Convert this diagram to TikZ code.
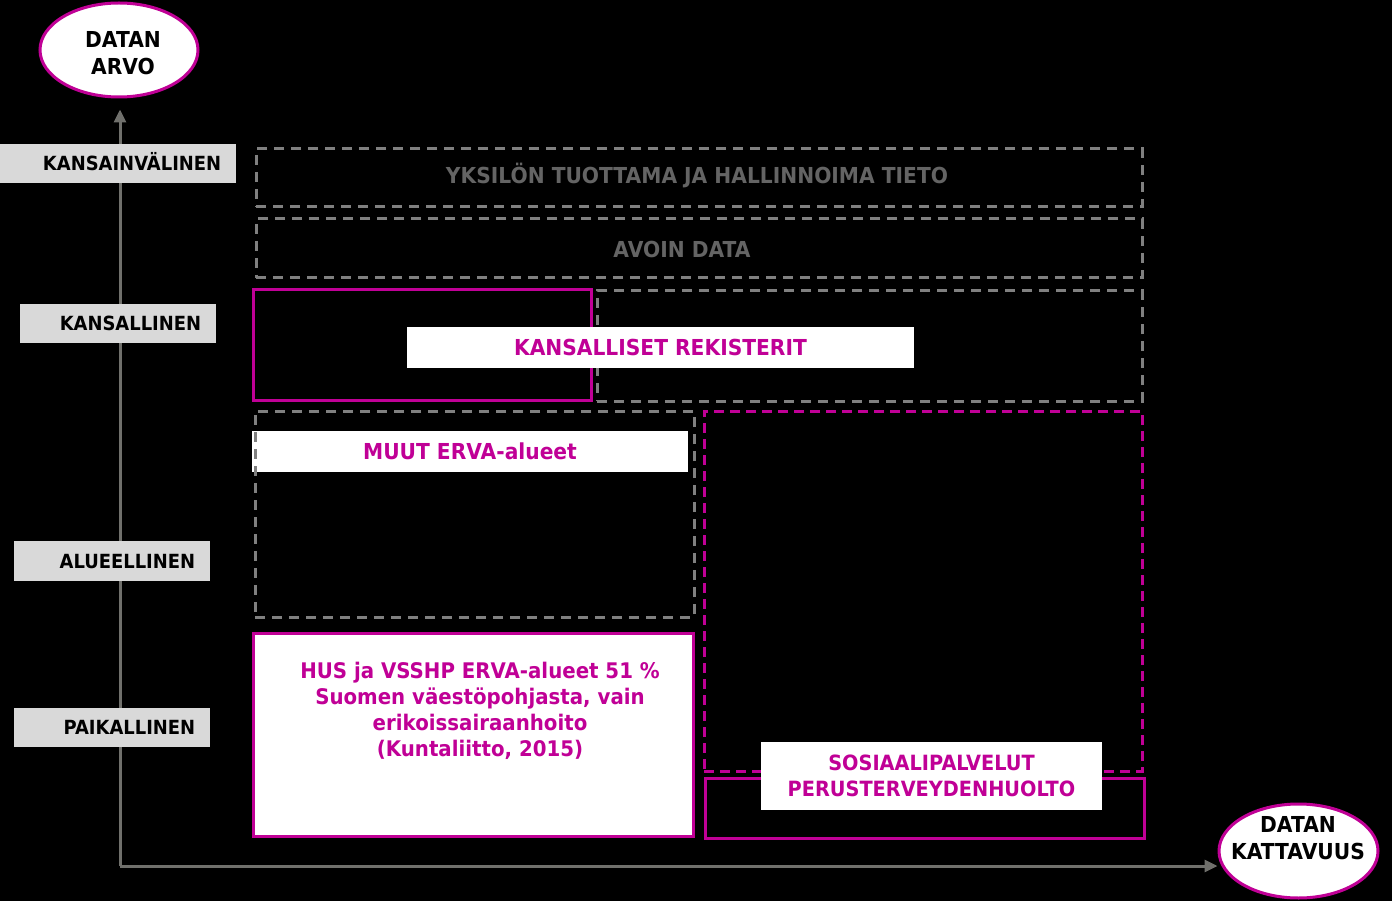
\documentclass[tikz,border=0pt]{standalone}
\usepackage{fontspec}
\setmainfont{DejaVu Sans}[FakeStretch=0.92]
\usetikzlibrary{shapes.geometric,arrows.meta}
\definecolor{mag}{RGB}{192,0,150}
\definecolor{dgray}{RGB}{128,128,128}
\definecolor{tgray}{RGB}{100,100,100}
\definecolor{lgray}{RGB}{217,217,217}
\definecolor{axgray}{RGB}{112,112,108}
\tikzset{
  dbox/.style={draw=dgray, dash pattern=on 10pt off 7pt, line width=3pt, inner sep=0pt},
  mdbox/.style={draw=mag, dash pattern=on 10pt off 6pt, line width=3pt, inner sep=0pt},
  msbox/.style={draw=mag, line width=3pt, inner sep=0pt},
  wbox/.style={fill=white, inner sep=0pt},
  bigtxt/.style={font=\bfseries\fontsize{22}{27}\selectfont},
  magtxt/.style={bigtxt, text=mag},
  graytxt/.style={bigtxt, text=tgray},
  lab/.style={fill=lgray, anchor=north west, align=right, inner xsep=15pt, inner ysep=0pt,
    font=\bfseries\fontsize{19.5}{24}\selectfont, text height=14.2pt, text depth=0pt},
  oval/.style={ellipse, draw=mag, line width=3pt, fill=white, inner sep=0pt,
    minimum width=158pt, minimum height=94pt},
  axisline/.style={draw=axgray, line width=3pt, -{Triangle[length=13pt,width=12pt]}}
}
\begin{document}
\begin{tikzpicture}[x=1pt,y=-1pt]
\fill[black] (0,0) rectangle (1392,901);
\useasboundingbox (0,0) rectangle (1392,901);

% ovals
\node[oval] (arvo) at (119,50) {};
\node[bigtxt, align=center] (arvotxt) at (123,53) {DATAN\\ARVO};
\node[oval, minimum width=159pt] (kat) at (1298.5,851) {};
\node[bigtxt, align=center] (kattxt) at (1298,838) {DATAN\\KATTAVUUS};

% axes
\coordinate (o) at (120,866);
\draw[axisline, shorten >=11pt] (o) -- (o |- arvo.south);
\draw[axisline] (o) -- (o -| kat.west);

% level labels
\node[lab, minimum width=236pt, minimum height=39pt, text width=206pt] (intl) at (0,144) {KANSAINVÄLINEN};
\node[lab, minimum width=196pt, minimum height=39pt, text width=166pt] (nat) at (20,304) {KANSALLINEN};
\node[lab, minimum width=196pt, minimum height=40pt, text width=166pt] (reg) at (14,541) {ALUEELLINEN};
\node[lab, minimum width=196pt, minimum height=39pt, text width=166pt] (loc) at (14,708) {PAIKALLINEN};

% dashed gray boxes
\node[dbox, minimum width=886pt, minimum height=58pt] (yks) at (699,178) {};
\node[graytxt] (ykstxt) at (697,176) {YKSILÖN TUOTTAMA JA HALLINNOIMA TIETO};
\node[dbox, minimum width=886pt, minimum height=59pt] (avoin) at (699,248.5) {};
\node[graytxt] (avointxt) at (682,249.5) {AVOIN DATA};

% national registers
\node[msbox, minimum width=338pt, minimum height=110pt] (natm) at (422,345) {};
\node[dbox, minimum width=545pt, minimum height=110pt] (natd) at (869.5,346) {};
\node[wbox, magtxt, minimum width=507pt, minimum height=41pt] (kansreg) at (660.5,347.5) {KANSALLISET REKISTERIT};

% other ERVA areas
\node[wbox, magtxt, minimum width=436pt, minimum height=41pt] (muut) at (470,451.5) {MUUT ERVA-alueet};
\node[dbox, minimum width=439pt, minimum height=206pt] (muutd) at (474.5,514) {};

% HUS box
\node[msbox, fill=white, minimum width=440pt, minimum height=203pt] (hus) at (473,734.5) {};
\node[magtxt, align=center, font=\bfseries\fontsize{21.5}{26}\selectfont] (hustxt) at (480,711)
  {HUS ja VSSHP ERVA-alueet 51 \%\\Suomen väestöpohjasta, vain\\erikoissairaanhoito\\(Kuntaliitto, 2015)};

% social services
\node[mdbox, minimum width=438pt, minimum height=360pt] (sosd) at (923,591) {};
\node[msbox, minimum width=439pt, minimum height=60pt] (soss) at (924.5,808) {};
\node[wbox, magtxt, align=center, font=\bfseries\fontsize{21}{26}\selectfont, minimum width=341pt, minimum height=68pt] (sos) at (931.5,776) {SOSIAALIPALVELUT\\PERUSTERVEYDENHUOLTO};
\end{tikzpicture}
\end{document}
